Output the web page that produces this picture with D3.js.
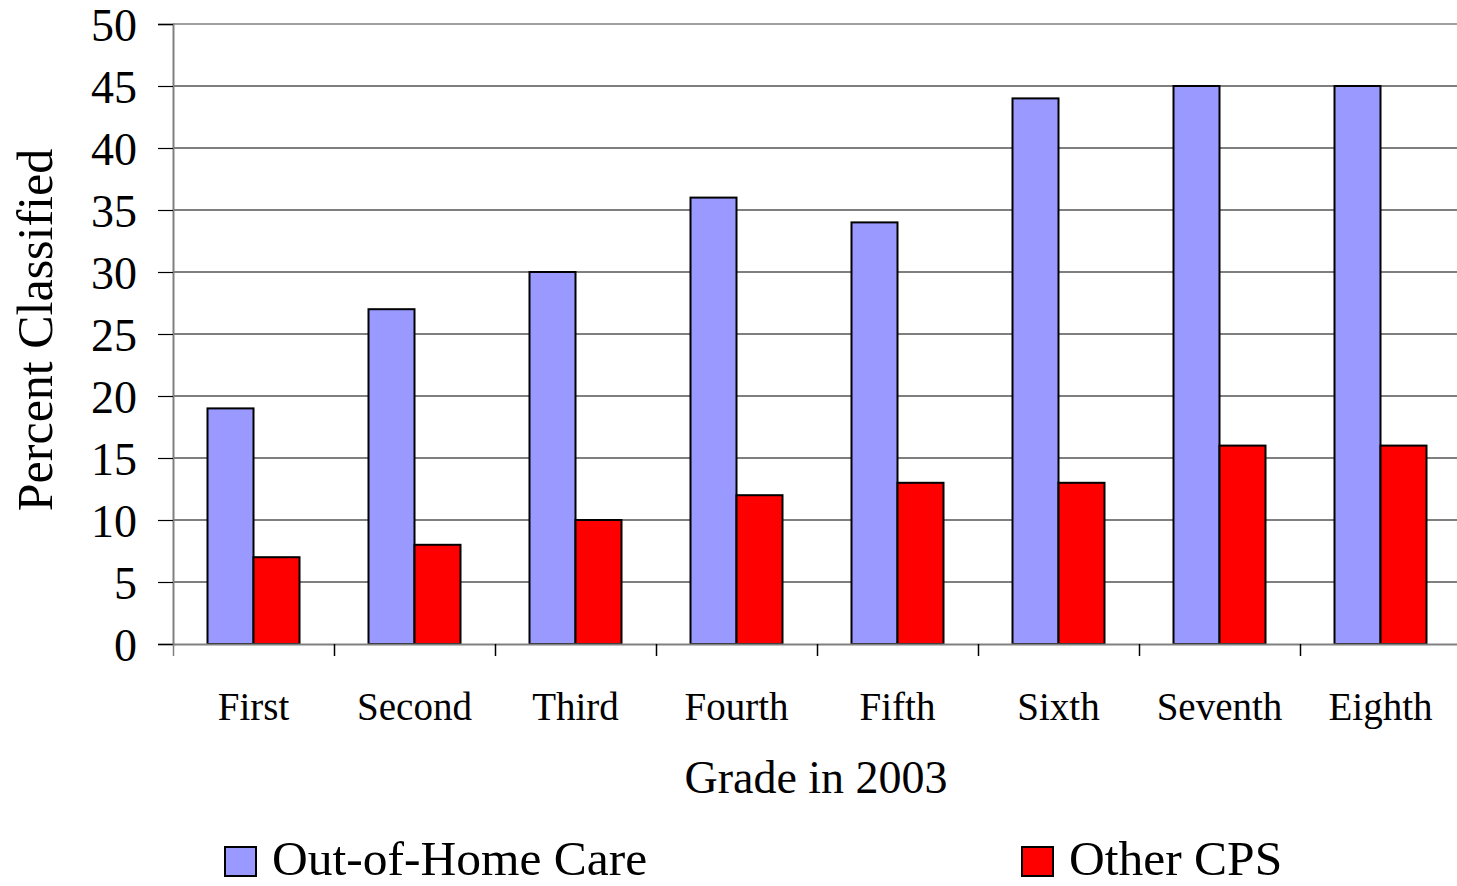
<!DOCTYPE html>
<html>
<head>
<meta charset="utf-8">
<script src="https://cdn.jsdelivr.net/npm/d3@7"></script>
<style>
  body { margin: 0; background: #fff; }
  svg { display: block; font-family: "Liberation Serif", "DejaVu Serif", serif; }
</style>
</head>
<body>
<svg id="chart" width="1457" height="886"></svg>
<script>
const grades = ['First', 'Second', 'Third', 'Fourth', 'Fifth', 'Sixth', 'Seventh', 'Eighth']
const series = ['Out-of-Home Care', 'Other CPS']
const outOfHome = [19, 27, 30, 36, 34, 44, 45, 45]
const otherCps = [7, 8, 10, 12, 13, 13, 16, 16]
const yTicks = [0, 5, 10, 15, 20, 25, 30, 35, 40, 45, 50]
const colors = ['#9999ff', '#ff0000']

const values = [outOfHome, otherCps]
const rows = grades.map((g, i) => ({ grade: g, vals: values.map(v => v[i]) }))

const plotLeft = 173, plotRight = 1461, plotTop = 24, plotBottom = 644
const svg = d3.select('#chart')

const x0 = d3.scaleBand().domain(grades).range([plotLeft, plotRight]).padding(0)
const x1 = d3.scaleBand().domain(d3.range(series.length))
  .range([0, x0.bandwidth()]).paddingInner(0).paddingOuter(0.75)
const y = d3.scaleLinear().domain([0, 50]).range([plotBottom, plotTop])

// gridlines
svg.append('g').selectAll('line')
  .data(yTicks.filter(t => t > 0)).enter().append('line')
  .attr('x1', plotLeft).attr('x2', 1457)
  .attr('y1', d => y(d)).attr('y2', d => y(d))
  .attr('stroke', d => d == 50 ? '#a0a0a0' : '#000')
  .attr('stroke-width', d => d == 50 ? 2 : 1.2)

// bars
const groups = svg.append('g').selectAll('g')
  .data(rows).enter().append('g')
  .attr('transform', d => `translate(${x0(d.grade)},0)`)

groups.selectAll('rect')
  .data(d => d.vals).enter().append('rect')
  .attr('x', (d, i) => x1(i))
  .attr('y', d => y(d))
  .attr('width', x1.bandwidth())
  .attr('height', d => y(0) - y(d))
  .attr('fill', (d, i) => colors[i])
  .attr('stroke', '#000')
  .attr('stroke-width', 2)

// y axis
const yAxis = svg.append('g')
  .attr('transform', `translate(${plotLeft},0)`)
  .call(d3.axisLeft(y).tickValues(yTicks).tickSize(15).tickPadding(21).tickFormat(d3.format('d')))
yAxis.select('.domain').attr('stroke', '#808080').attr('stroke-width', 2)
yAxis.selectAll('.tick line').attr('stroke', '#000').attr('stroke-width', 1.2)
yAxis.selectAll('.tick text')
  .attr('font-size', 46).attr('fill', '#000').attr('dy', '0.36em')
  .style('font-family', '"Liberation Serif", serif')

// x axis
const xAxis = svg.append('g')
  .attr('transform', `translate(0,${plotBottom})`)
  .call(d3.axisBottom(x0).tickSize(0).tickPadding(0))
xAxis.select('.domain').attr('stroke', '#808080').attr('stroke-width', 2)
xAxis.selectAll('.tick text')
  .attr('font-size', 39).attr('fill', '#000').attr('y', 76).attr('dy', 0)
  .style('font-family', '"Liberation Serif", serif')

// category boundary ticks
svg.append('g').selectAll('line')
  .data(grades).enter().append('line')
  .attr('x1', d => Math.round(x0(d)) + 0.5).attr('x2', d => Math.round(x0(d)) + 0.5)
  .attr('y1', plotBottom).attr('y2', plotBottom + 12)
  .attr('stroke', (d, i) => i == 0 ? '#808080' : '#000')
  .attr('stroke-width', 1.5)

// axis titles
svg.append('text')
  .attr('x', 816).attr('y', 793)
  .attr('text-anchor', 'middle').attr('font-size', 46)
  .text('Grade in 2003')

svg.append('text')
  .attr('transform', 'translate(52,330) rotate(-90)')
  .attr('text-anchor', 'middle').attr('font-size', 50)
  .text('Percent Classified')

// legend
const legendX = [225, 1022]
const legend = svg.append('g').selectAll('g')
  .data(series).enter().append('g')
  .attr('transform', (d, i) => `translate(${legendX[i]},847)`)
legend.append('rect')
  .attr('width', 31).attr('height', 29)
  .attr('fill', (d, i) => colors[i])
  .attr('stroke', '#000').attr('stroke-width', 2)
legend.append('text')
  .attr('x', 47).attr('y', 28)
  .attr('font-size', 49.5)
  .text(d => d)
</script>
</body>
</html>
